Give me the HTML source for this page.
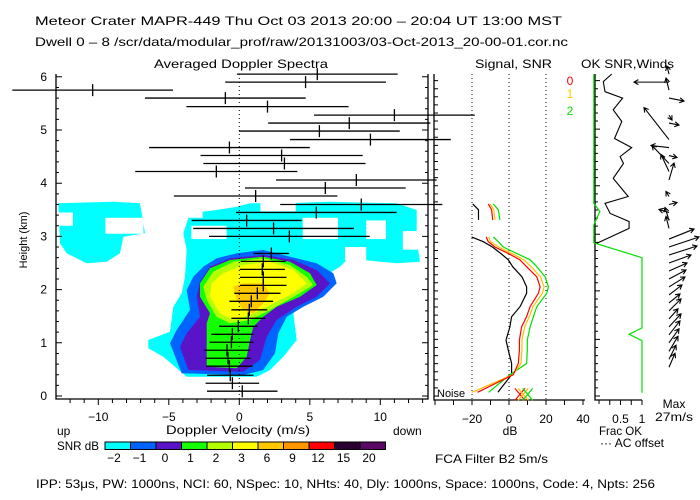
<!DOCTYPE html>
<html><head><meta charset="utf-8">
<style>
html,body{margin:0;padding:0;background:#fff;}
svg{display:block;font-family:"Liberation Sans",sans-serif;}
text{font-size:12px;fill:#000;}
</style></head>
<body>
<svg id="chart" width="700" height="500" viewBox="0 0 700 500" xmlns="http://www.w3.org/2000/svg">
<g id="layer-blob"></g>
<g id="layer-main"></g>
<g id="layer-sig"></g>
<g id="layer-wind"></g>
<g id="layer-text">
<text x="35" y="25" textLength="527" lengthAdjust="spacingAndGlyphs">Meteor Crater  MAPR-449  Thu Oct 03 2013 20:00 – 20:04 UT 13:00 MST</text>
<text x="35" y="46" textLength="533" lengthAdjust="spacingAndGlyphs">Dwell  0 –  8   /scr/data/modular_prof/raw/20131003/03-Oct-2013_20-00-01.cor.nc</text>
<text x="154" y="68" textLength="174" lengthAdjust="spacingAndGlyphs">Averaged Doppler Spectra</text>
<text x="475" y="68" textLength="77" lengthAdjust="spacingAndGlyphs">Signal, SNR</text>
<text x="581" y="68" textLength="93" lengthAdjust="spacingAndGlyphs">OK SNR,Winds</text>
<text x="0" y="0" transform="translate(27,240) rotate(-90)" text-anchor="middle" style="font-size:11px">Height (km)</text>
<text x="238" y="434" text-anchor="middle" textLength="144" lengthAdjust="spacingAndGlyphs">Doppler Velocity (m/s)</text>
<text x="57" y="435">up</text>
<text x="393" y="435">down</text>
<text x="57" y="450" textLength="42" lengthAdjust="spacingAndGlyphs">SNR dB</text>
<text x="510" y="435" text-anchor="middle">dB</text>
<text x="599" y="435" textLength="43" lengthAdjust="spacingAndGlyphs">Frac OK</text>
<text x="600" y="447" textLength="64" lengthAdjust="spacingAndGlyphs">··· AC offset</text>
<text x="674" y="408" text-anchor="middle">Max</text>
<text x="655" y="421" textLength="38" lengthAdjust="spacingAndGlyphs">27m/s</text>
<text x="435" y="463" textLength="113" lengthAdjust="spacingAndGlyphs">FCA Filter B2  5m/s</text>
<text x="36" y="488" textLength="619" lengthAdjust="spacingAndGlyphs">IPP:  53μs,  PW: 1000ns,  NCI:  60,  NSpec: 10, NHts: 40,  Dly: 1000ns,  Space: 1000ns,  Code: 4,  Npts: 256</text>
<text x="437" y="397" style="font-size:11px">Noise</text>
<text x="570" y="85" text-anchor="middle" style="fill:#ff0000">0</text>
<text x="570" y="98" text-anchor="middle" style="fill:#ffc800">1</text>
<text x="570" y="115" text-anchor="middle" style="fill:#00e000">2</text>
</g>
<g id="layer-cbar"></g>
</svg>
<script>
// ---------- DATA ----------
const barHeights = [6.05,5.90,5.75,5.60,5.44,5.28,5.13,4.98,4.82,4.67,4.52,4.37,4.22,4.06,3.91,3.76,3.60,3.45,3.30,3.15,3.00,2.68,2.53,2.38,2.23,2.08,1.93,1.78,1.62,1.46,1.31,1.16,1.01,0.86,0.71,0.56,0.39,0.24,0.09];
const barCenters = [5.53,4.70,-10.4,-0.99,2.0,11.0,7.8,5.68,9.3,-0.7,3.0,3.2,-1.63,8.3,6.1,1.16,8.65,5.46,0.52,2.43,3.55,2.27,1.7,1.63,1.7,1.7,1.28,0.85,0.71,0.64,-0.07,-0.49,-0.56,-0.87,-0.8,-0.7,-0.64,-0.49,0.21];
const barHalfWidths = [5.7,5.7,5.7,5.7,5.75,5.7,5.75,5.7,5.7,5.7,5.75,5.75,5.75,5.7,5.7,5.8,5.75,5.7,3.9,5.7,5.7,1.27,1.6,1.6,1.65,1.65,1.64,1.55,1.27,1.2,1.36,1.5,1.55,1.65,1.6,1.65,1.65,1.9,2.5];
const yTicks = [0,1,2,3,4,5,6];
const xTicks = [-10,-5,0,5,10];
const sigHeights = [0.07,0.40,0.61,0.86,1.05,1.30,1.49,1.68,1.93,2.05,2.24,2.43,2.56,2.68,2.80,2.90,2.99];
const sigBlack  = [-6,1.4,1.4,-0.4,-1.6,0.5,1.4,6,9.5,9.5,7,2,-0.4,-4.5,-9,-13.9,-20.2];
const sigRed    = [-17,2.3,5.0,5.6,5.6,6.8,9.5,11.4,15.9,16.8,15.0,9.5,5.9,-0.4,-7.6,-11.2,-12.4];
const sigOrange = [-20,2.0,6.5,7,7,8.5,11,13,18,19,17,12,8,1.5,-5.5,-10,-11];
const sigGreen  = [-11,0.5,9.5,9.9,9.9,11.4,13.2,15.0,20.4,21.3,19.5,15.0,11.4,4.1,-3.1,-5.8,-8.5];
const sigTopHeights = [3.31,3.50,3.61];
const sigTopBlack = [-16.5,-16.5,-19.6];
const sigTopRed = [-8.8,-9.4,-11.2];
const sigTopOrange = [-7.5,-8.2,-10.2];
const sigTopGreen = [-4.9,-5.8,-8.5];
const noiseMarks = [5.9,7.7,10.1];
const dbTicks = [-20,0,20,40];
const okHeights = [6.05,5.91,5.72,5.60,5.38,5.16,4.84,4.67,4.50,4.37,4.09,3.75,3.62,3.43,3.28,3.15,2.87];
const okSnrFrac = [0.295,0.10,0.14,0.55,0.33,0.53,0.36,0.76,0.49,0.57,0.33,0.68,0.14,0.26,0.70,0.70,-0.05];
const fracHeights = [6.05,3.62,3.47,3.22,2.88,2.60,1.28,1.16,1.04,0.06];
const fracOk = [-0.12,-0.12,0.02,-0.12,-0.12,1,1,0.70,1,1];
const windHeights = [0.54,0.69,0.84,1.00,1.15,1.30,1.45,1.60,1.75,1.90,2.05,2.20,2.35,2.50,2.65,2.80,2.95,3.15,3.30,3.45,3.60,3.75,4.06,4.22,4.37,4.52,4.67,4.82,5.13,5.28,5.60,5.75,5.90,6.05];
const windU = [6,7,9,10,11,12,9,12,11,13,16,17,18,22,28,30,25,-3,-4,-10,8,-3,5,-8,-17,8,-18,-25,10,3,15,-3,-35,-2];
const windV = [14,14,15,14,14,13,10,12,9,10,10,9,8,8,9,10,10,12,13,3,2,5,17,17,18,-2,2,32,-2,-5,-3,12,0,8];
const cbarLabels = ["-2","-1","0","1","2","3","6","9","12","15","20"];
const cbarColors = ["#00ffff","#0064ff","#5a14c8","#14ff00","#b4ff00","#ffff00","#ffc800","#ff9600","#ff0000","#2a0030","#5a0a64"];
// contour vertices derived from grid readings
const grid = p => [(p[0]-627.9)/42.3,(588-p[1])/159.6];
const contourCyanMain = [[470,530],[400,470],[355,445],[355,420],[420,395],[430,320],[455,280],[465,230],[470,150],[460,100],[480,40],[560,30],[620,20],[660,10],[760,10],[900,5],[1100,10],[1160,30],[1160,120],[1170,185],[1100,190],[1000,180],[960,170],[930,200],[880,230],[830,300],[790,340],[800,420],[760,470],[720,510],[680,530]].map(grid);
const contourCyanLeft = [[85,10],[250,5],[330,10],[345,100],[280,110],[270,160],[230,185],[170,190],[110,160],[90,130]].map(grid);
const contourBlue = [[455,520],[420,430],[440,390],[480,330],[470,270],[490,230],[520,200],[560,175],[620,160],[700,150],[780,170],[860,190],[910,220],[920,250],[880,290],[820,320],[770,350],[745,400],[735,460],[700,510],[640,525]].map(grid);
const contourIndigo = [[475,510],[450,440],[470,400],[510,350],[500,290],[510,245],[540,200],[600,175],[700,165],[790,180],[860,210],[900,250],[860,290],[800,320],[740,360],[710,410],[690,480],[640,515]].map(grid);
const contourGreen = [[530,500],[530,370],[540,340],[510,290],[510,250],[540,205],[600,180],[700,170],[780,185],[840,220],[860,255],[810,290],[740,320],[700,350],[670,380],[660,420],[650,470],[620,505]].map(grid);
const contourYG = [[560,350],[530,300],[520,260],[550,215],[610,185],[700,175],[780,195],[830,230],[850,255],[800,285],[720,330],[660,360],[600,370]].map(grid);
const contourYellow = [[570,340],[540,290],[545,250],[580,220],[640,195],[720,185],[790,210],[830,250],[790,280],[720,315],[660,345],[610,360]].map(grid);
const contourGold = [[610,260],[640,250],[700,250],[720,280],[700,310],[670,340],[640,330],[620,300]].map(grid);
// low-SNR gaps inside cyan region: [v1, v2, h1, h2]
const cyanGaps = [[-9.5,-6.8,3.05,3.35],[-12.9,-11.8,3.2,3.45],[-7.0,-6.0,2.6,2.95],[-3.4,-0.9,2.95,3.2],[4.5,7.0,2.95,3.35],[9.0,10.4,2.95,3.3],[11.6,13.3,2.75,3.1],[1.5,4.0,3.47,3.7],[-4.0,-2.6,3.35,3.7],[7.5,9.0,2.55,2.8]];

// ---------- AXES ----------
const NS="http://www.w3.org/2000/svg";
const xV = v => 239.3 + v*14.1;
const yH = h => 396 - h*53.2;
const xDB = d => 509 + d*1.85;
const xF = f => 599 + f*43;
function mk(parent, tag, attrs){const e=document.createElementNS(NS,tag);for(const k in attrs)e.setAttribute(k,attrs[k]);parent.appendChild(e);return e;}
const gB=document.getElementById('layer-blob'), gM=document.getElementById('layer-main'), gS=document.getElementById('layer-sig'), gW=document.getElementById('layer-wind'), gC=document.getElementById('layer-cbar');

[[contourCyanMain,0],[contourCyanLeft,0]].forEach(([c,i])=>{
  const p=mk(gB,'polygon',{points:c.map(q=>xV(q[0]).toFixed(1)+','+yH(q[1]).toFixed(1)).join(' '),fill:cbarColors[i]});
  
  
});
cyanGaps.forEach(g=>{
  const r=mk(gB,'rect',{x:xV(g[0]),y:yH(g[3]),width:xV(g[1])-xV(g[0]),height:yH(g[2])-yH(g[3]),fill:'#fff'});
  
  
});
[[contourBlue,1],[contourIndigo,2],[contourGreen,3],[contourYG,4],[contourYellow,5],[contourGold,6]].forEach(([c,i])=>{
  const p=mk(gB,'polygon',{points:c.map(q=>xV(q[0]).toFixed(1)+','+yH(q[1]).toFixed(1)).join(' '),fill:cbarColors[i]});
  
  
});

let ln=mk(gM,'path',{d:'M56,74 V399 H428 V74',fill:'none',stroke:'#000','stroke-width':1.3});


let dz=mk(gM,'line',{x1:xV(0),x2:xV(0),y1:74,y2:399,stroke:'#000','stroke-dasharray':'1,3'});


let td='';
for(let h=0;h<=6.01;h+=0.2){const y=yH(h);const maj=Math.abs(h-Math.round(h))<0.01;const L=maj?6:3;td+=`M56,${y}h${L}M428,${y}h${-L}`;}
for(let v=-12;v<=13;v++){td+=`M${xV(v)},399v${v%5===0?6:4}`;}
let tk=mk(gM,'path',{d:td,stroke:'#000','stroke-width':1,fill:'none'});


yTicks.forEach(t=>{const e=mk(gM,'text',{x:47,y:yH(t)+4,'text-anchor':'end'});e.textContent=t;
  
  });
xTicks.forEach(t=>{const e=mk(gM,'text',{x:xV(t),y:421,'text-anchor':'middle'});e.textContent=(t<0?'−':'')+Math.abs(t);
  
  });
barHeights.forEach((h,i)=>{
  const c=barCenters[i],w=barHalfWidths[i],y=yH(h);
  const e=mk(gM,'path',{d:`M${xV(c-w)},${y}H${xV(c+w)}M${xV(c)},${y-6}V${y+6}`,stroke:'#000','stroke-width':1.3,fill:'none'});
  
  
});

let sf=mk(gS,'path',{d:'M434,74 V400 H585',fill:'none',stroke:'#000','stroke-width':1.3});


let sd='';for(let h=0;h<=6.05;h+=0.152){sd+=`M434,${yH(h)}h4`;}
for(let d=-40;d<=40;d+=10){sd+=`M${xDB(d)},400v5`;}
let st=mk(gS,'path',{d:sd,stroke:'#000','stroke-width':1,fill:'none'});


[-20,0,20].forEach(d=>{const e=mk(gS,'line',{x1:xDB(d),x2:xDB(d),y1:74,y2:400,stroke:'#000','stroke-dasharray':'1,3'});
  
  });
dbTicks.forEach(t=>{const e=mk(gS,'text',{x:xDB(t),y:423,'text-anchor':'middle'});e.textContent=(t<0?'−':'')+Math.abs(t);
  
  });
function prof(hs,vs,col,name){const e=mk(gS,'polyline',{points:hs.map((h,i)=>xDB(vs[i]).toFixed(1)+','+yH(h).toFixed(1)).join(' '),fill:'none',stroke:col,'stroke-width':1.2});
  
  }
prof(sigHeights,sigBlack,'#000','signal-profile');
prof(sigHeights,sigGreen,'#00e000','snr-profile-2');
prof(sigHeights,sigOrange,'#ffc000','snr-profile-1');
prof(sigHeights,sigRed,'#ff0000','snr-profile-0');
prof(sigTopHeights,sigTopBlack,'#000','signal-profile-upper');
prof(sigTopHeights,sigTopGreen,'#00e000','snr-profile-2-upper');
prof(sigTopHeights,sigTopOrange,'#ffc000','snr-profile-1-upper');
prof(sigTopHeights,sigTopRed,'#ff0000','snr-profile-0-upper');
['#ff0000','#ffc000','#00e000'].forEach((c,i)=>{const x=xDB(noiseMarks[i]),y=yH(0.03);
  const e=mk(gS,'path',{d:`M${x-5},${y-6}L${x+5},${y+6}M${x+5},${y-6}L${x-5},${y+6}`,stroke:c,'stroke-width':1.2});
  
  });

let wf=mk(gW,'path',{d:'M595,74 V400 H642',fill:'none',stroke:'#000','stroke-width':1.3});


let wd='';for(let h=0;h<=6.05;h+=0.152){wd+=`M595,${yH(h)}h${Math.abs(h-Math.round(h))<0.08?5:3}`;}
[0.25,0.5,0.75,1].forEach(f=>{wd+=`M${xF(f)},400v5`;});
wd+=`M${xF(0)},400v4`;
let wt=mk(gW,'path',{d:wd,stroke:'#000','stroke-width':1,fill:'none'});


[['0.5',0.5],['1',1]].forEach(([l,f])=>{const e=mk(gW,'text',{x:xF(f),y:423,'text-anchor':'middle'});e.textContent=l;
  
  });
let fo=mk(gW,'polyline',{points:fracHeights.map((h,i)=>xF(fracOk[i]).toFixed(1)+','+yH(h).toFixed(1)).join(' '),fill:'none',stroke:'#00e000','stroke-width':1.2});


let os=mk(gW,'polyline',{points:okHeights.map((h,i)=>xF(okSnrFrac[i]).toFixed(1)+','+yH(h).toFixed(1)).join(' '),fill:'none',stroke:'#000','stroke-width':1.1});


windHeights.forEach((h,i)=>{
  const x0=669,y0=yH(h),u=windU[i],v=windV[i];
  const x1=x0+u,y1=y0-v,len=Math.hypot(u,v)||1;
  const ux=u/len,uy=-v/len,a=5;
  const hx1=x1-a*(ux*0.87-uy*0.5),hy1=y1-a*(uy*0.87+ux*0.5);
  const hx2=x1-a*(ux*0.87+uy*0.5),hy2=y1-a*(uy*0.87-ux*0.5);
  const e=mk(gW,'path',{d:`M${x0},${y0}L${x1},${y1}M${hx1},${hy1}L${x1},${y1}L${hx2},${hy2}`,stroke:'#000','stroke-width':1.1,fill:'none'});
  
  
});

const cbX=105,cbW=25.5;
cbarColors.forEach((c,i)=>{const r=mk(gC,'rect',{x:cbX+i*cbW,y:442,width:cbW,height:7.5,fill:c,stroke:'#000','stroke-width':1});
  
  
  const t=mk(gC,'text',{x:cbX+i*cbW+9,y:462,'text-anchor':'middle'});t.textContent=cbarLabels[i].replace('-','−');
  
  });
</script>
</body></html>
